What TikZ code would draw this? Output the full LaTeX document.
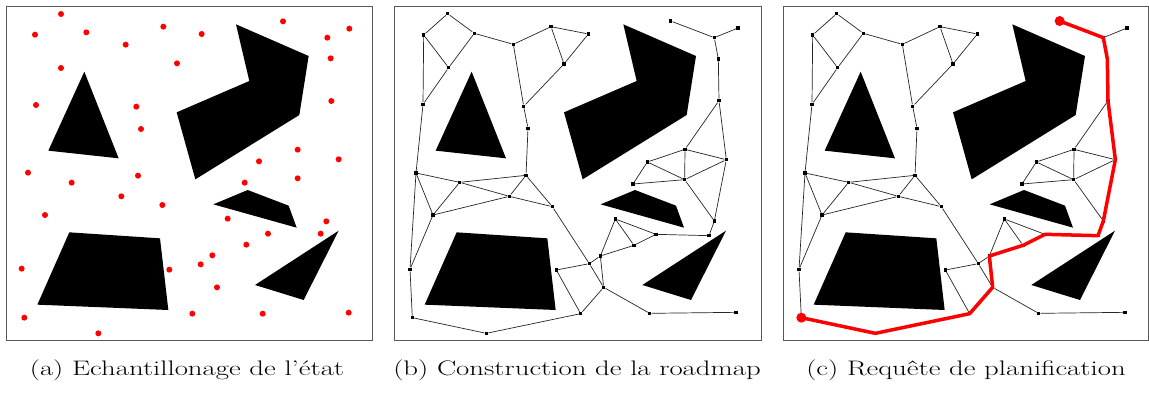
\documentclass[tikz,border=0pt]{standalone}
\usepackage{tikz}
\usetikzlibrary{arrows.meta,positioning}

% obstacles, shared by the three panels
\newcommand{\obstacles}{%
  \fill (245,215) -- (137,452) -- (348,475) -- cycle;
  \fill (700,73) -- (918,168) -- (890,345) -- (578,538) -- (522,337) -- (740,243) -- cycle;
  \fill (632,613) -- (735,570) -- (858,617) -- (882,683) -- cycle;
  \fill (200,697) -- (472,715) -- (497,930) -- (104,914) -- cycle;
  \fill (1008,692) -- (757,855) -- (903,900) -- cycle;
}
% roadmap vertices and links
\newcommand{\roadmap}{%
  \foreach \n/\x/\y in {1/173/41, 2/101/105, 3/253/100, 4/176/203, 5/99/313, 6/370/133,
      7/483/80, 8/595/102, 9/522/192, 10/401/319, 11/414/385, 12/78/519, 13/209/547,
      14/408/526, 15/358/589, 16/487/620, 17/129/645, 18/60/808, 19/67/953, 20/289/1000,
      21/572/941, 22/499/810, 23/598/791, 24/631/768, 25/641/862, 26/676/657, 27/732/736,
      28/798/703, 29/957/707, 30/973/663, 31/779/940, 32/1038/937, 33/842/63, 34/973/113,
      35/1044/84, 36/985/177, 37/987/302, 38/885/448, 39/1009/479, 40/772/486, 41/884/539,
      42/729/552}
    \node[vtx] (n\n) at (\x,\y) {};
  \foreach \a/\b in {1/2, 1/3, 2/4, 3/4, 2/5, 4/5, 3/6, 6/7, 7/8, 7/9, 8/9, 9/10, 6/10,
      10/11, 11/14, 5/12, 12/13, 13/14, 13/15, 12/17, 13/17, 17/15, 14/15, 14/16, 15/16,
      12/18, 17/18, 18/19, 19/20, 20/21, 16/23, 23/25, 22/23, 22/21, 21/25, 25/31, 24/25,
      23/24, 24/26, 24/27, 27/28, 26/27, 26/28, 28/29, 29/30, 30/41, 30/39, 37/38, 37/39,
      38/39, 38/40, 38/41, 40/41, 40/42, 42/41, 41/39, 31/32, 33/34, 34/35, 34/36, 36/37}
    \draw[link] (n\a) -- (n\b);
}

\begin{document}
\begin{tikzpicture}[x=1pt, y=-1pt,
    frame/.style={draw=black!65, line width=0.8pt},
    vtx/.style={fill=black, inner sep=0pt, minimum size=3.5pt},
    link/.style={draw=black!85, line width=0.7pt},
    sample/.style={circle, fill=red, inner sep=0pt, minimum size=6pt},
    goal/.style={circle, fill=red, inner sep=0pt, minimum size=10pt},
    route/.style={draw=red, line width=3.5pt, line join=round},
    caption/.style={anchor=base, inner sep=0pt, font=\fontsize{21}{25}\selectfont}]
  \path[fill=white, use as bounding box] (0,0) rectangle (1149,394);

  % (a) samples
  \begin{scope}[xshift=2.67pt, x=1pt/3, y=-1pt/3, name prefix=a-]
    \draw[frame] (12,20) rectangle (1110,1022);
    \obstacles
    \foreach \x/\y [count=\i] in {175/42, 97/104, 251/97, 482/80, 369/134, 597/102, 841/64,
        1040/86, 974/113, 984/175, 175/204, 523/190, 100/315, 401/320, 986/303, 415/387,
        885/449, 1008/478, 769/484, 76/518, 207/548, 406/527, 885/535, 726/548, 356/589,
        479/615, 127/645, 675/656, 971/664, 796/701, 954/701, 731/734, 629/766, 57/806,
        500/809, 594/793, 643/862, 65/953, 569/941, 780/941, 1038/938, 287/1000}
      \node[sample] (s\i) at (\x,\y) {};
  \end{scope}

  % (b) roadmap
  \begin{scope}[xshift=390pt, x=1pt/3, y=-1pt/3, name prefix=b-]
    \draw[frame] (12,20) rectangle (1113,1022);
    \obstacles
    \roadmap
  \end{scope}

  % (c) query
  \begin{scope}[xshift=779pt, x=1pt/3, y=-1pt/3, name prefix=c-]
    \draw[frame] (12,20) rectangle (1108,1022);
    \obstacles
    \roadmap
    \node[goal] (qinit) at (n33) {};
    \node[goal] (qgoal) at (n19) {};
    \draw[route] (qinit.center) -- (n34.center) -- (n36.center) -- (n37.center)
      -- (n39.center) -- (n30.center) -- (n29.center) -- (n28.center) -- (n27.center)
      -- (n24.center) -- (n25.center) -- (n21.center) -- (n20.center) -- (qgoal.center);
  \end{scope}

  \node[caption] (capa) at (187,375.5) {\scalebox{1.37}[1]{(a)\ Echantillonage de l'état}};
  \node[caption] (capb) at (577,375.5) {\scalebox{1.37}[1]{(b)\ Construction de la roadmap}};
  \node[caption] (capc) at (966,375.5) {\scalebox{1.37}[1]{(c)\ Requête de planification}};
\end{tikzpicture}
\end{document}
